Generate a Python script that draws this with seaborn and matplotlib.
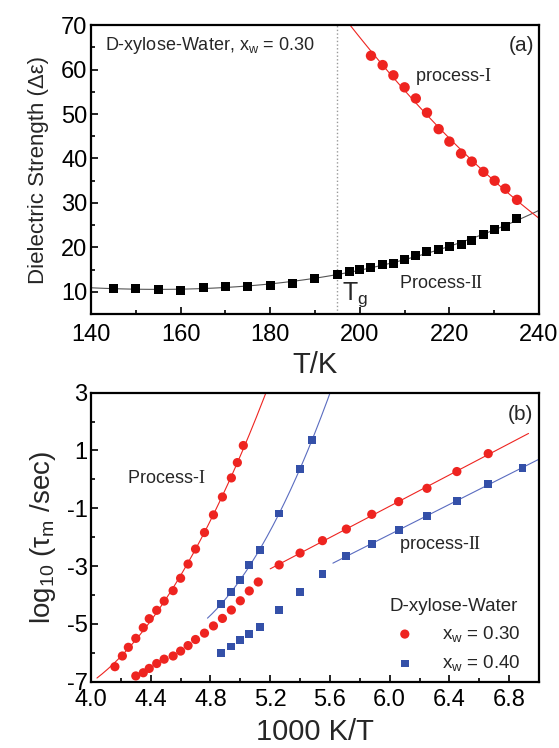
import numpy as np
import pandas as pd
import seaborn as sns
import matplotlib
matplotlib.use("Agg")
import matplotlib.pyplot as plt

# panel (a): dielectric strength vs T, x_w = 0.30
t_proc1 = [202.5, 205.1, 207.5, 210.0, 212.5, 215.0, 217.6, 220.0, 222.6, 225.0, 227.6, 230.1, 232.5, 235.1]
de_proc1 = [63.1, 61.0, 58.7, 56.0, 53.5, 50.3, 46.6, 43.8, 41.1, 39.3, 37.0, 35.0, 33.2, 30.7]
t_proc2 = [145, 150, 155, 160, 165, 170, 175, 180, 185, 190, 195, 197.6, 200, 202.5, 205,
           207.5, 210, 212.5, 215, 217.6, 220, 222.6, 225, 227.6, 230, 232.5, 235]
de_proc2 = [10.7, 10.7, 10.5, 10.4, 11.1, 11.3, 11.3, 11.5, 12.0, 13.0, 14.0, 14.5, 15.0, 15.5, 16.1,
            16.4, 17.3, 18.3, 19.1, 19.6, 20.2, 20.6, 21.6, 23.0, 24.0, 24.7, 26.5]
tg = 195

# panel (b): log10 tau vs 1000/T
# x_w = 0.30 (red circles)
x30_p1 = [4.16, 4.21, 4.25, 4.30, 4.35, 4.39, 4.44, 4.49, 4.55, 4.60, 4.65, 4.70, 4.76, 4.82, 4.88, 4.94, 4.98, 5.02]
y30_p1 = [-6.48, -6.11, -5.81, -5.50, -5.13, -4.82, -4.53, -4.21, -3.85, -3.42, -2.93, -2.41, -1.84, -1.23, -0.61, 0.05, 0.58, 1.17]
x30_low = [4.30, 4.35, 4.39, 4.44, 4.49, 4.55, 4.60, 4.65, 4.70, 4.76, 4.82, 4.88, 4.94, 5.00, 5.06, 5.12]
y30_low = [-6.80, -6.69, -6.54, -6.37, -6.22, -6.11, -5.94, -5.75, -5.54, -5.32, -5.07, -4.81, -4.52, -4.20, -3.86, -3.55]
x30_p2 = [5.26, 5.40, 5.55, 5.71, 5.88, 6.06, 6.25, 6.45, 6.66]
y30_p2 = [-2.96, -2.55, -2.12, -1.72, -1.21, -0.77, -0.31, 0.27, 0.89]
# x_w = 0.40 (blue squares)
x40_p1 = [4.87, 4.94, 5.00, 5.06, 5.13, 5.26, 5.40, 5.48]
y40_p1 = [-4.32, -3.89, -3.49, -2.97, -2.44, -1.18, 0.37, 1.36]
x40_low = [4.87, 4.94, 5.00, 5.06, 5.13, 5.26, 5.40, 5.55]
y40_low = [-6.01, -5.78, -5.56, -5.34, -5.10, -4.52, -3.91, -3.27]
x40_p2 = [5.71, 5.88, 6.06, 6.25, 6.45, 6.66, 6.89]
y40_p2 = [-2.65, -2.23, -1.76, -1.26, -0.75, -0.16, 0.40]

# extent of the fitted curves
fit_range = {"30_p1": (4.04, 5.2), "40_p1": (4.78, 5.65), "30_p2": (5.2, 6.93), "40_p2": (5.62, 7.0)}

red = "#ee2420"
blue = "#3450a8"
blue_line = "#5a6cc0"

sns.set_theme(style="ticks")
plt.rcParams["font.family"] = ["Liberation Sans", "DejaVu Sans"]
plt.rcParams["mathtext.fontset"] = "custom"
plt.rcParams["mathtext.rm"] = "Liberation Sans"
plt.rcParams["mathtext.it"] = "Liberation Sans:italic"
plt.rcParams["mathtext.tt"] = "Liberation Serif"
plt.rcParams["axes.unicode_minus"] = False

fig = plt.figure(figsize=(5.59, 7.48), dpi=100)
ax1 = fig.add_axes([0.1628, 0.580, 0.8014, 0.3865])
ax2 = fig.add_axes([0.1628, 0.0886, 0.8014, 0.3865])


def style_ax(ax, xpad):
    for s in ax.spines.values():
        s.set_linewidth(1.6)
        s.set_color("black")
    ax.tick_params(which="both", direction="in", top=False, right=False, width=1.2, colors="black")
    ax.tick_params(which="major", length=5, labelsize=17)
    ax.tick_params(axis="y", which="major", pad=2.5)
    ax.tick_params(axis="x", which="major", pad=xpad)
    ax.tick_params(which="minor", length=3)


# ---- panel (a)
ax1.set_xlim(140, 240)
ax1.set_ylim(5, 70)
ax1.axvline(tg, color="#999999", ls=":", lw=1.0)
sns.regplot(x=t_proc2, y=de_proc2, order=3, ci=None, truncate=False, scatter=False, ax=ax1,
            line_kws=dict(color="#555555", lw=0.8))
sns.regplot(x=t_proc1, y=de_proc1, order=2, ci=None, truncate=False, scatter=False, ax=ax1,
            line_kws=dict(color=red, lw=0.8))
sns.scatterplot(x=t_proc2, y=de_proc2, marker="s", s=42, color="black", edgecolor="none", ax=ax1, zorder=3)
sns.scatterplot(x=t_proc1, y=de_proc1, marker="o", s=56, color=red, edgecolor="none", ax=ax1, zorder=3)
ax1.set_xlim(140, 240)
ax1.set_ylim(5, 70)
ax1.set_xticks(np.arange(140, 241, 20))
ax1.set_xticks(np.arange(150, 240, 20), minor=True)
ax1.set_yticks(np.arange(10, 71, 10))
ax1.set_yticks(np.arange(5, 70, 10), minor=True)
style_ax(ax1, 7)
ax1.set_xlabel("T/K", fontsize=21, labelpad=4)
ax1.set_ylabel("Dielectric Strength (Δε)", fontsize=16, labelpad=9)
ax1.text(143.2, 65.5, r"D-xylose-Water, x$_\mathrm{w}$ = 0.30", fontsize=13, va="center", ha="left")
ax1.text(239, 65.5, "(a)", fontsize=15, va="center", ha="right")
ax1.text(212.4, 58.4, r"process-$\mathtt{I}$", fontsize=13, va="center", ha="left")
ax1.text(208.8, 12.0, r"Process-$\mathtt{II}$", fontsize=13, va="center", ha="left")
ax1.text(196.0, 8.3, r"T$_\mathrm{g}$", fontsize=18, va="baseline", ha="left")

# ---- panel (b)
ax2.set_xlim(4.0, 7.0)
ax2.set_ylim(-7, 3)


def fit_curve(xs, ys, order, key, color):
    lo, hi = fit_range[key]
    coef = np.polyfit(xs, ys, order)
    xx = np.linspace(lo, hi, 200)
    sns.lineplot(x=xx, y=np.polyval(coef, xx), color=color, lw=0.8, ax=ax2, legend=False)


fit_curve(x30_p1, y30_p1, 2, "30_p1", red)
fit_curve(x40_p1, y40_p1, 2, "40_p1", blue_line)
fit_curve(x30_p2, y30_p2, 1, "30_p2", red)
fit_curve(x40_p2, y40_p2, 1, "40_p2", blue_line)

reds_x = x30_p1 + x30_low + x30_p2
reds_y = y30_p1 + y30_low + y30_p2
blues_x = x40_p1 + x40_low + x40_p2
blues_y = y40_p1 + y40_low + y40_p2
sns.scatterplot(x=reds_x, y=reds_y, marker="o", s=44, color=red, edgecolor="none", ax=ax2, zorder=3,
                label=r"x$_\mathrm{w}$ = 0.30")
sns.scatterplot(x=blues_x, y=blues_y, marker="s", s=32, color=blue, edgecolor="none", ax=ax2, zorder=3,
                label=r"x$_\mathrm{w}$ = 0.40")

ax2.set_xlim(4.0, 7.0)
ax2.set_ylim(-7, 3)
ax2.set_xticks(np.round(np.arange(4.0, 6.81, 0.4), 1))
ax2.set_xticks(np.round(np.arange(4.2, 7.0, 0.4), 1), minor=True)
ax2.set_yticks([-7, -5, -3, -1, 1, 3])
ax2.set_yticks([-6, -4, -2, 0, 2], minor=True)
style_ax(ax2, 5.5)
ax2.set_xlabel("1000 K/T", fontsize=21, labelpad=5)
ax2.set_ylabel(r"log$_{10}$ (τ$_\mathrm{m}$ /sec)", fontsize=20, labelpad=6)
ax2.text(6.96, 2.23, "(b)", fontsize=15, va="center", ha="right")
ax2.text(4.24, 0.04, r"Process-$\mathtt{I}$", fontsize=13, va="center", ha="left")
ax2.text(6.06, -2.24, r"process-$\mathtt{II}$", fontsize=13, va="center", ha="left")

leg = ax2.legend(title="D-xylose-Water", loc="lower right", bbox_to_anchor=(0.985, -0.01), frameon=False,
                 fontsize=13.5, title_fontsize=13.5, handletextpad=1.2, labelspacing=0.5,
                 alignment="left", borderaxespad=0.2, handlelength=1.6)

fig.savefig("out.png", dpi=100)
